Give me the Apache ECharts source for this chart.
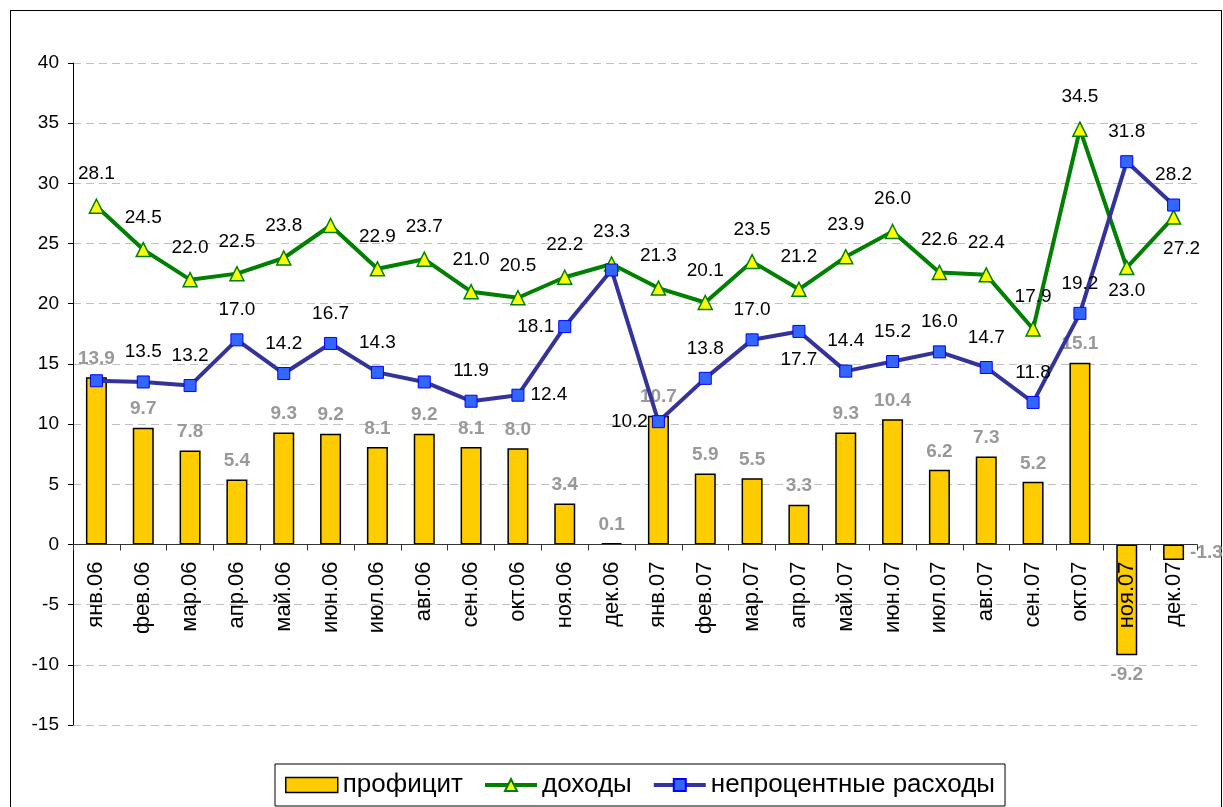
<!DOCTYPE html>
<html>
<head>
<meta charset="utf-8">
<script src="https://cdn.jsdelivr.net/npm/echarts@6/dist/echarts.min.js"></script>
<style>
  html, body { margin: 0; padding: 0; background: #fff; }
  #frame { position: absolute; left: 10px; top: 10px; width: 1210px; height: 820px; border: 1px solid #000; }
  #chart { position: absolute; left: 0; top: 0; width: 1223px; height: 807px; }
</style>
</head>
<body>
<div id="frame"></div>
<div id="chart"></div>
<script>
const categories = [
  'янв.06', 'фев.06', 'мар.06', 'апр.06', 'май.06', 'июн.06', 'июл.06', 'авг.06', 'сен.06', 'окт.06', 'ноя.06', 'дек.06',
  'янв.07', 'фев.07', 'мар.07', 'апр.07', 'май.07', 'июн.07', 'июл.07', 'авг.07', 'сен.07', 'окт.07', 'ноя.07', 'дек.07'
];
const profit = [13.9, 9.7, 7.8, 5.4, 9.3, 9.2, 8.1, 9.2, 8.1, 8.0, 3.4, 0.1, 10.7, 5.9, 5.5, 3.3, 9.3, 10.4, 6.2, 7.3, 5.2, 15.1, -9.2, -1.3];
const income = [28.1, 24.5, 22.0, 22.5, 23.8, 26.5, 22.9, 23.7, 21.0, 20.5, 22.2, 23.3, 21.3, 20.1, 23.5, 21.2, 23.9, 26.0, 22.6, 22.4, 17.9, 34.5, 23.0, 27.2];
const expenses = [13.6, 13.5, 13.2, 17.0, 14.2, 16.7, 14.3, 13.5, 11.9, 12.4, 18.1, 22.8, 10.2, 13.8, 17.0, 17.7, 14.4, 15.2, 16.0, 14.7, 11.8, 19.2, 31.8, 28.2];
const yTicks = { min: -15, max: 40, step: 5 };

const FONT = "'Liberation Sans', Arial, sans-serif";
const GRID = { left: 73, right: 26, top: 63, bottom: 82 };
const plotH = 807 - GRID.top - GRID.bottom;
// category axis sits on the zero line
const zeroOffset = -plotH * (0 - yTicks.min) / (yTicks.max - yTicks.min);

// per-point label tweaks (which ones are hidden / moved)
function withLabels(values, hidden, moved) {
  return values.map((v, i) => {
    if (hidden.indexOf(i) >= 0) return { value: v, label: { show: false } };
    if (moved[i]) return { value: v, label: moved[i] };
    return v;
  });
}

const chart = echarts.init(document.getElementById('chart'));
const option = {
  animation: false,
  textStyle: { fontFamily: FONT },
  grid: GRID,
  legend: {
    bottom: 1,
    left: 275,
    borderColor: '#000',
    borderWidth: 1,
    padding: [8, 10],
    itemGap: 20,
    itemWidth: 52,
    itemHeight: 15,
    textStyle: { fontSize: 26, color: '#000', fontFamily: FONT },
    data: [
      { name: 'профицит', icon: 'rect', itemStyle: { borderColor: '#000', borderWidth: 1.5 } },
      { name: 'доходы', lineStyle: { width: 4 } },
      { name: 'непроцентные расходы', lineStyle: { width: 4 } }
    ]
  },
  xAxis: {
    type: 'category',
    data: categories,
    position: 'bottom',
    offset: zeroOffset,
    z: 5,
    axisLine: { onZero: false, lineStyle: { color: '#333', width: 1 } },
    axisTick: { show: true, length: 6, lineStyle: { color: '#333' } },
    axisLabel: { rotate: 90, margin: 17, fontSize: 22, color: '#000', fontFamily: FONT, interval: 0 },
    splitLine: { show: false }
  },
  yAxis: {
    type: 'value',
    min: yTicks.min,
    max: yTicks.max,
    interval: yTicks.step,
    axisLine: { show: true, lineStyle: { color: '#000' } },
    axisTick: { show: true, length: 5, lineStyle: { color: '#000' } },
    axisLabel: { fontSize: 19, color: '#000', margin: 14, fontFamily: FONT },
    splitLine: { lineStyle: { color: '#c0c0c0', type: [8, 5] } }
  },
  series: [
    {
      name: 'профицит',
      type: 'bar',
      barWidth: 21,
      itemStyle: { color: '#FFCC00', borderColor: '#000', borderWidth: 1.5 },
      label: {
        show: true,
        position: 'top',
        distance: 9,
        fontSize: 19,
        fontWeight: 'bold',
        color: '#999999',
        fontFamily: FONT,
        formatter: p => p.value.toFixed(1)
      },
      data: withLabels(profit, [], {
        22: { position: 'bottom', distance: 10 },
        23: { position: 'right', distance: 6 }
      })
    },
    {
      name: 'доходы',
      type: 'line',
      symbol: 'triangle',
      symbolSize: 14,
      z: 3,
      lineStyle: { color: '#008000', width: 4 },
      itemStyle: { color: '#FFFF00', borderColor: '#008000', borderWidth: 1.5 },
      label: {
        show: true,
        position: 'top',
        distance: 15,
        fontSize: 19,
        color: '#000',
        fontFamily: FONT,
        formatter: p => p.value.toFixed(1)
      },
      data: withLabels(income, [5], {
        22: { position: 'bottom', distance: 6 },
        23: { position: 'bottom', distance: 14, offset: [8, 0] }
      })
    },
    {
      name: 'непроцентные расходы',
      type: 'line',
      symbol: 'rect',
      symbolSize: 12,
      z: 4,
      lineStyle: { color: '#333399', width: 4 },
      itemStyle: { color: '#3366FF', borderColor: '#0000FF', borderWidth: 1 },
      label: {
        show: true,
        position: 'top',
        distance: 14,
        fontSize: 19,
        color: '#000',
        fontFamily: FONT,
        formatter: p => p.value.toFixed(1)
      },
      data: withLabels(expenses, [0, 7, 11], {
        9: { position: 'right', distance: 6 },
        10: { position: 'left', distance: 4 },
        12: { position: 'left', distance: 4 },
        15: { position: 'bottom', distance: 12 }
      })
    }
  ]
};
chart.setOption(option);
</script>
</body>
</html>
